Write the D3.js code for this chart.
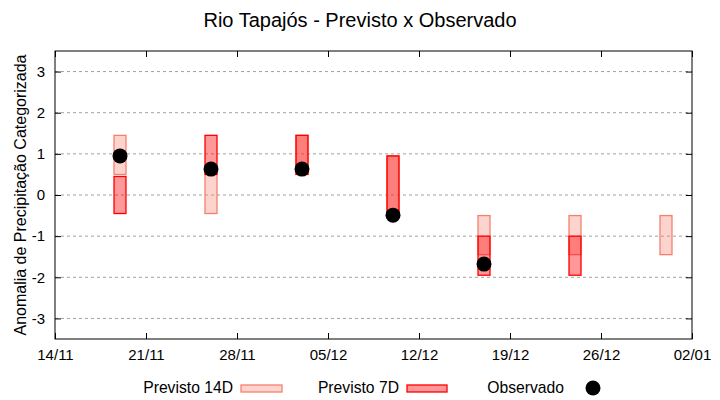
<!DOCTYPE html>
<html>
<head>
<meta charset="utf-8">
<script src="https://cdn.jsdelivr.net/npm/d3@7"></script>
<style>
  body { margin: 0; background: #fff; }
  text { font-family: "Liberation Sans", Arial, sans-serif; }
</style>
</head>
<body>
<div id="chart"></div>
<script>
// Forecast dates (weekly)
const dates = ["2023-11-19", "2023-11-26", "2023-12-03", "2023-12-10", "2023-12-17", "2023-12-24", "2023-12-31"];
// Previsto 14D ranges [low, high]
const prev14Low = [0.5, -0.45, 0.5, -0.5, -1.45, -1.45, -1.45];
const prev14High = [1.45, 0.5, 1.45, 0.95, -0.5, -0.5, -0.5];
// Previsto 7D ranges [low, high] (null = none)
const prev7Low = [-0.45, 0.5, 0.5, -0.5, -1.95, -1.95, null];
const prev7High = [0.45, 1.45, 1.45, 0.95, -1.0, -1.0, null];
// Observado
const obsDates = ["2023-11-19", "2023-11-26", "2023-12-03", "2023-12-10", "2023-12-17"];
const obsValues = [0.95, 0.63, 0.63, -0.49, -1.68];

const yTicks = [-3, -2, -1, 0, 1, 2, 3];

const parse = d3.timeParse("%Y-%m-%d");

const W = 720, H = 400;
const margin = { top: 51, right: 28, bottom: 61, left: 55 },
    width = W - margin.left - margin.right,
    height = H - margin.top - margin.bottom;

const svg = d3.select("#chart")
    .append("svg")
    .attr("width", W)
    .attr("height", H);

// Title
svg.append("text")
    .attr("x", W / 2)
    .attr("y", 27)
    .attr("text-anchor", "middle")
    .style("font-size", "20px")
    .text("Rio Tapajós - Previsto x Observado");

// Y label
svg.append("text")
    .attr("transform", "translate(26," + (margin.top + height / 2) + ") rotate(-90)")
    .attr("text-anchor", "middle")
    .style("font-size", "16px")
    .text("Anomalia de Precipitação Categorizada");

const g = svg.append("g")
    .attr("transform", "translate(" + margin.left + "," + margin.top + ")");

const x = d3.scaleTime()
    .domain([parse("2023-11-14"), parse("2024-01-02")])
    .range([0, width]);

const y = d3.scaleLinear()
    .domain([-3.5, 3.5])
    .range([height, 0]);

// grid
g.selectAll(".grid")
    .data(yTicks)
    .join("line")
    .attr("class", "grid")
    .attr("x1", 0)
    .attr("x2", width)
    .attr("y1", d => y(d))
    .attr("y2", d => y(d))
    .attr("stroke", "#a0a0a0")
    .attr("stroke-width", 1)
    .attr("stroke-dasharray", "3,3");

const xTicksAll = d3.range(0, 8).map(i => d3.timeDay.offset(parse("2023-11-14"), i * 7));

// Axes (ticks inside)
g.append("g")
    .attr("transform", "translate(0," + height + ")")
    .call(d3.axisBottom(x).tickValues(xTicksAll).tickFormat(d3.timeFormat("%d/%m")).tickSizeInner(-6).tickSizeOuter(0).tickPadding(10));
g.append("g")
    .call(d3.axisLeft(y).tickValues(yTicks).tickFormat(d => String(d)).tickSizeInner(-6).tickSizeOuter(0).tickPadding(10));
// mirrored ticks
g.append("g")
    .attr("transform", "translate(" + width + ",0)")
    .call(d3.axisRight(y).tickValues(yTicks).tickSizeInner(-6).tickSizeOuter(0).tickFormat(""));
g.append("g")
    .call(d3.axisTop(x).tickValues(xTicksAll).tickSizeInner(-6).tickSizeOuter(0).tickFormat(""));

g.selectAll(".domain").remove();
g.selectAll(".tick text").style("font-size", "15px").attr("fill", "#000");
g.selectAll(".tick line").attr("stroke", "#000");

// frame
g.append("rect")
    .attr("width", width)
    .attr("height", height)
    .attr("fill", "none")
    .attr("stroke", "#000")
    .attr("stroke-width", 1);

const barW = 12;

// Previsto 14D
g.selectAll(".p14")
    .data(dates.map((d, i) => ({ date: parse(d), lo: prev14Low[i], hi: prev14High[i] })))
    .join("rect")
    .attr("class", "p14")
    .attr("x", d => x(d.date) - barW / 2)
    .attr("y", d => y(d.hi))
    .attr("width", barW)
    .attr("height", d => y(d.lo) - y(d.hi))
    .attr("fill", "rgb(250,128,114)")
    .attr("fill-opacity", 0.35)
    .attr("stroke", "#f58070")
    .attr("stroke-width", 1.3);

// Previsto 7D
g.selectAll(".p7")
    .data(dates.map((d, i) => ({ date: parse(d), lo: prev7Low[i], hi: prev7High[i] })).filter(d => d.lo !== null))
    .join("rect")
    .attr("class", "p7")
    .attr("x", d => x(d.date) - barW / 2)
    .attr("y", d => y(d.hi))
    .attr("width", barW)
    .attr("height", d => y(d.lo) - y(d.hi))
    .attr("fill", "red")
    .attr("fill-opacity", 0.4)
    .attr("stroke", "red")
    .attr("stroke-width", 1.3);

// Observado
g.selectAll(".obs")
    .data(obsDates.map((d, i) => ({ date: parse(d), v: obsValues[i] })))
    .join("circle")
    .attr("class", "obs")
    .attr("cx", d => x(d.date))
    .attr("cy", d => y(d.v))
    .attr("r", 7.5)
    .attr("fill", "#000");

// Legend
const leg = svg.append("g");
const legY = 388;
leg.append("text").attr("x", 233).attr("y", legY + 5).attr("text-anchor", "end").style("font-size", "15.7px").text("Previsto 14D");
leg.append("rect").attr("x", 241).attr("y", legY - 3).attr("width", 41).attr("height", 7)
    .attr("fill", "rgb(250,128,114)").attr("fill-opacity", 0.35).attr("stroke", "#f58070").attr("stroke-width", 1.3);
leg.append("text").attr("x", 399).attr("y", legY + 5).attr("text-anchor", "end").style("font-size", "15.7px").text("Previsto 7D");
leg.append("rect").attr("x", 407).attr("y", legY - 3).attr("width", 40).attr("height", 7)
    .attr("fill", "red").attr("fill-opacity", 0.4).attr("stroke", "red").attr("stroke-width", 1.3);
leg.append("text").attr("x", 564).attr("y", legY + 5).attr("text-anchor", "end").style("font-size", "15.7px").text("Observado");
leg.append("circle").attr("cx", 593).attr("cy", legY).attr("r", 7.5).attr("fill", "#000");
</script>
</body>
</html>
